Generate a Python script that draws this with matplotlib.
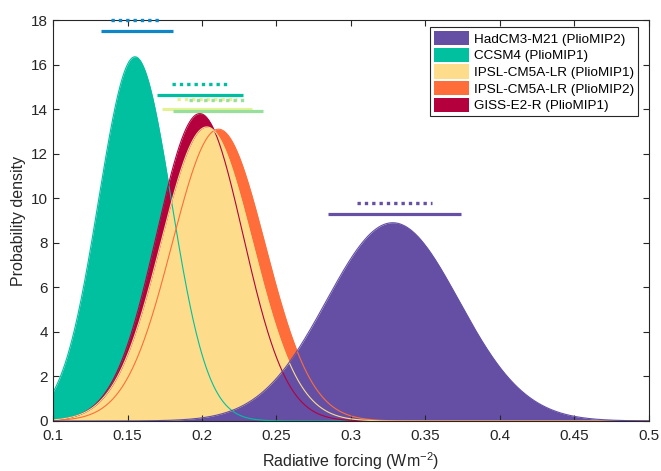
import numpy as np
import matplotlib.pyplot as plt
from matplotlib.patches import Patch

plt.rcParams["font.family"] = ["Liberation Sans", "DejaVu Sans"]
plt.rcParams["mathtext.default"] = "regular"

# density curves (gaussian fits)
models = [
    "HadCM3-M21 (PlioMIP2)",
    "CCSM4 (PlioMIP1)",
    "IPSL-CM5A-LR (PlioMIP1)",
    "IPSL-CM5A-LR (PlioMIP2)",
    "GISS-E2-R (PlioMIP1)",
]
colors = ["#644fa5", "#00c0a0", "#fddd8b", "#ff6d3a", "#b5003e"]
means = [0.328, 0.155, 0.2032, 0.2111, 0.1985]
sigmas = [0.0445, 0.0244, 0.0308, 0.0312, 0.029]
peaks = [8.9, 16.35, 13.2, 13.1, 13.8]
# fill order back to front: CCSM4, IPSL2, GISS, IPSL1, HadCM3
fill_order = [1, 3, 4, 2, 0]

# range bars at the top
bar_colors = ["#0f87c7", "#00bfa0", "#e4f296", "#98df9c", "#6550a5"]
solid_lo = [0.1322, 0.1696, 0.1729, 0.1803, 0.2846]
solid_hi = [0.1807, 0.2277, 0.2333, 0.2411, 0.3740]
solid_y = [17.5, 14.63, 14.0, 13.9, 9.29]
dot_lo = [0.1389, 0.1799, 0.1830, 0.1915, 0.3040]
dot_hi = [0.1725, 0.2176, 0.2232, 0.2294, 0.3544]
dot_y = [18.0, 15.13, 14.47, 14.39, 9.78]

xticks = [0.1, 0.15, 0.2, 0.25, 0.3, 0.35, 0.4, 0.45, 0.5]
xticklabels = ["0.1", "0.15", "0.2", "0.25", "0.3", "0.35", "0.4", "0.45", "0.5"]
yticks = [0, 2, 4, 6, 8, 10, 12, 14, 16, 18]

fig = plt.figure(figsize=(6.61, 4.71), dpi=100)
ax = fig.add_axes([0.0802, 0.1062, 0.9016, 0.8513])

x = np.linspace(0.1, 0.5, 1000)
curves = [p * np.exp(-0.5 * ((x - m) / s) ** 2) for m, s, p in zip(means, sigmas, peaks)]

for i in fill_order:
    ax.fill_between(x, 0, curves[i], color=colors[i], lw=0)
for i in fill_order:
    ax.plot(x, curves[i], color=colors[i], lw=0.8)

for i in range(len(bar_colors)):
    ax.plot([solid_lo[i], solid_hi[i]], [solid_y[i]] * 2, color=bar_colors[i],
            lw=2.3, solid_capstyle="butt", clip_on=False, zorder=5)
    ax.plot([dot_lo[i], dot_hi[i]], [dot_y[i]] * 2, color=bar_colors[i],
            lw=2.4, linestyle=(0, (1, 1.2)), clip_on=False, zorder=5)

ax.set_xlim(0.1, 0.5)
ax.set_ylim(0, 18)
ax.set_xticks(xticks)
ax.set_xticklabels(xticklabels)
ax.set_yticks(yticks)
ax.tick_params(direction="in", length=4, width=0.8, labelsize=11,
               top=True, right=True, colors="#262626")
ax.tick_params(axis="x", pad=6)
for sp in ax.spines.values():
    sp.set_linewidth(0.8)
    sp.set_color("#262626")
ax.set_xlabel("Radiative forcing (Wm$^{-2}$)", fontsize=11.5, color="#262626", labelpad=5)
ax.set_ylabel("Probability density", fontsize=11.5, color="#262626")

handles = [Patch(facecolor=c, edgecolor="none") for c in colors]
leg = ax.legend(handles, models, loc="upper right", bbox_to_anchor=(0.9815, 0.9825),
                borderaxespad=0, fontsize=9.7, fancybox=False, framealpha=1,
                edgecolor="#262626", handlelength=2.6, handleheight=1.25,
                handletextpad=0.35, labelspacing=0.15, borderpad=0.3)
leg.get_frame().set_linewidth(0.8)

plt.savefig("out.png", dpi=100)
